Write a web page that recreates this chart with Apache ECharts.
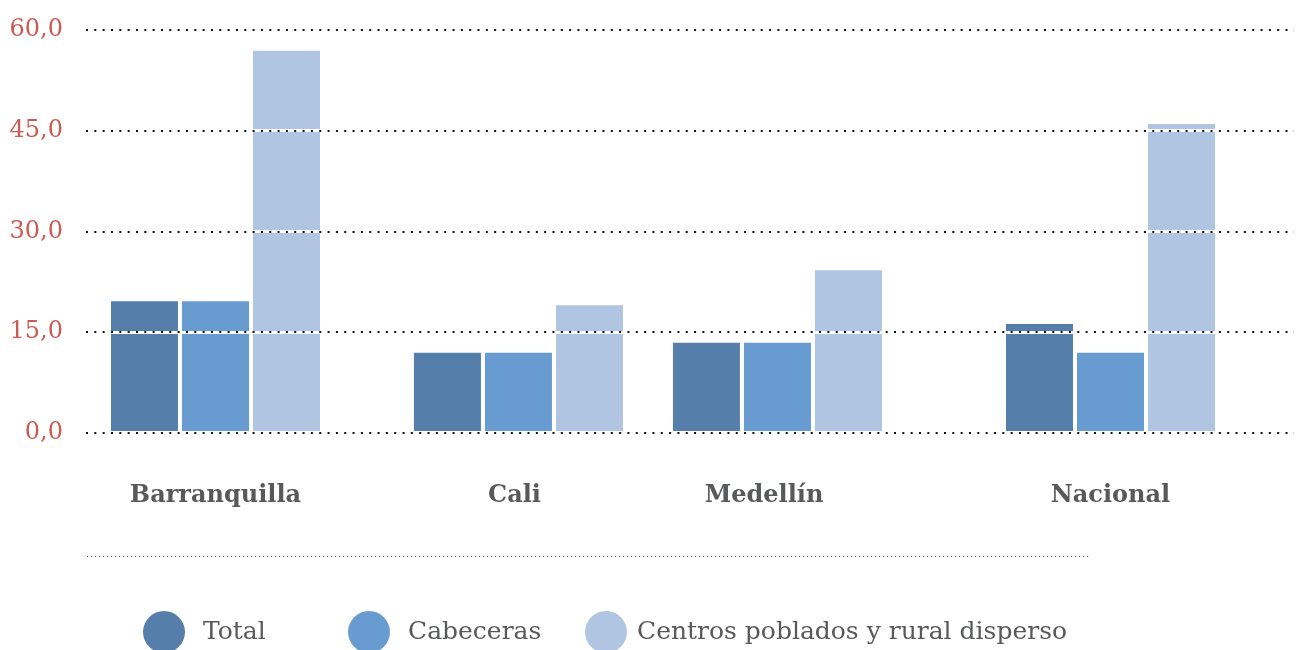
<!DOCTYPE html>
<html>
<head>
<meta charset="utf-8">
<script src="https://cdn.jsdelivr.net/npm/echarts@6/dist/echarts.min.js"></script>
<style>
  html, body { margin: 0; padding: 0; background: #fff; }
  #chart { width: 1302px; height: 650px; }
</style>
</head>
<body>
<div id="chart"></div>
<script>
// data
const categories = ['Barranquilla', 'Cali', 'Medellín', 'Nacional'];
const total = [19.6, 11.9, 13.4, 16.2];
const cabeceras = [19.6, 11.9, 13.4, 11.9];
const centros = [56.9, 19.0, 24.2, 46.0];
const seriesNames = ['Total', 'Cabeceras', 'Centros poblados y rural disperso'];
const yTicks = [0, 15, 30, 45, 60];

// layout: group centres and label centres along the plot width (0-100)
const groupPos = [10.72, 35.80, 57.24, 84.81];
const labelPos = [10.72, 35.47, 56.13, 84.81];

const colors = ['#557faa', '#689bd0', '#b0c5e2'];
const font = 'DejaVu Serif';

const chart = echarts.init(document.getElementById('chart'));

function toPairs(values) {
    return values.map((v, i) => [groupPos[i], v]);
}

const yBase = {
    type: 'value',
    min: yTicks[0],
    max: yTicks[yTicks.length - 1],
    interval: yTicks[1] - yTicks[0],
    axisLine: { show: false },
    axisTick: { show: false }
};

const legendText = { fontFamily: font, fontSize: 25, color: '#58595b' };

const option = {
    animation: false,
    grid: { left: 86, right: 8, top: 30, bottom: 217.3 },
    xAxis: {
        type: 'value',
        min: 0,
        max: 100,
        axisLine: { show: false },
        axisTick: { show: false },
        splitLine: { show: false },
        axisLabel: {
            customValues: labelPos,
            formatter: v => categories[labelPos.indexOf(v)] || '',
            fontFamily: font,
            fontWeight: 'bold',
            fontSize: 24,
            color: '#58595b',
            verticalAlign: 'middle',
            margin: 63
        }
    },
    yAxis: [
        Object.assign({}, yBase, {
            z: 3,
            splitLine: { lineStyle: { color: '#ffffff', width: 3, type: 'solid' } },
            axisLabel: {
                formatter: v => v.toFixed(1).replace('.', ','),
                fontFamily: font,
                fontSize: 24,
                color: '#cb5a52',
                margin: 23,
                verticalAlign: 'middle',
                padding: [0, 0, 14, 0]
            }
        }),
        Object.assign({}, yBase, {
            z: 4,
            position: 'left',
            axisLabel: { show: false },
            splitLine: { lineStyle: { color: '#111111', width: 2, type: [2, 6.33] } }
        })
    ],
    legend: [
        { data: [seriesNames[0]], left: 143, top: 611, padding: 0, icon: 'circle', itemWidth: 42, itemHeight: 42,
          textStyle: Object.assign({ padding: [0, 0, 0, 13] }, legendText) },
        { data: [seriesNames[1]], left: 348, top: 611, padding: 0, icon: 'circle', itemWidth: 42, itemHeight: 42,
          textStyle: Object.assign({ padding: [0, 0, 0, 13] }, legendText) },
        { data: [seriesNames[2]], left: 585, top: 611, padding: 0, icon: 'circle', itemWidth: 42, itemHeight: 42,
          textStyle: Object.assign({ padding: [0, 0, 0, 5] }, legendText) }
    ],
    graphic: [
        {
            type: 'line',
            shape: { x1: 87, y1: 556.5, x2: 1090, y2: 556.5 },
            style: { stroke: '#555555', lineWidth: 1.2, lineDash: [1.2, 2.8] }
        }
    ],
    series: [
        { name: seriesNames[0], type: 'bar', data: toPairs(total), barWidth: 67, barGap: '6%',
          itemStyle: { color: colors[0] } },
        { name: seriesNames[1], type: 'bar', data: toPairs(cabeceras), barWidth: 67, barGap: '6%',
          itemStyle: { color: colors[1] } },
        { name: seriesNames[2], type: 'bar', data: toPairs(centros), barWidth: 67, barGap: '6%',
          itemStyle: { color: colors[2] } }
    ]
};

chart.setOption(option);
</script>
</body>
</html>
